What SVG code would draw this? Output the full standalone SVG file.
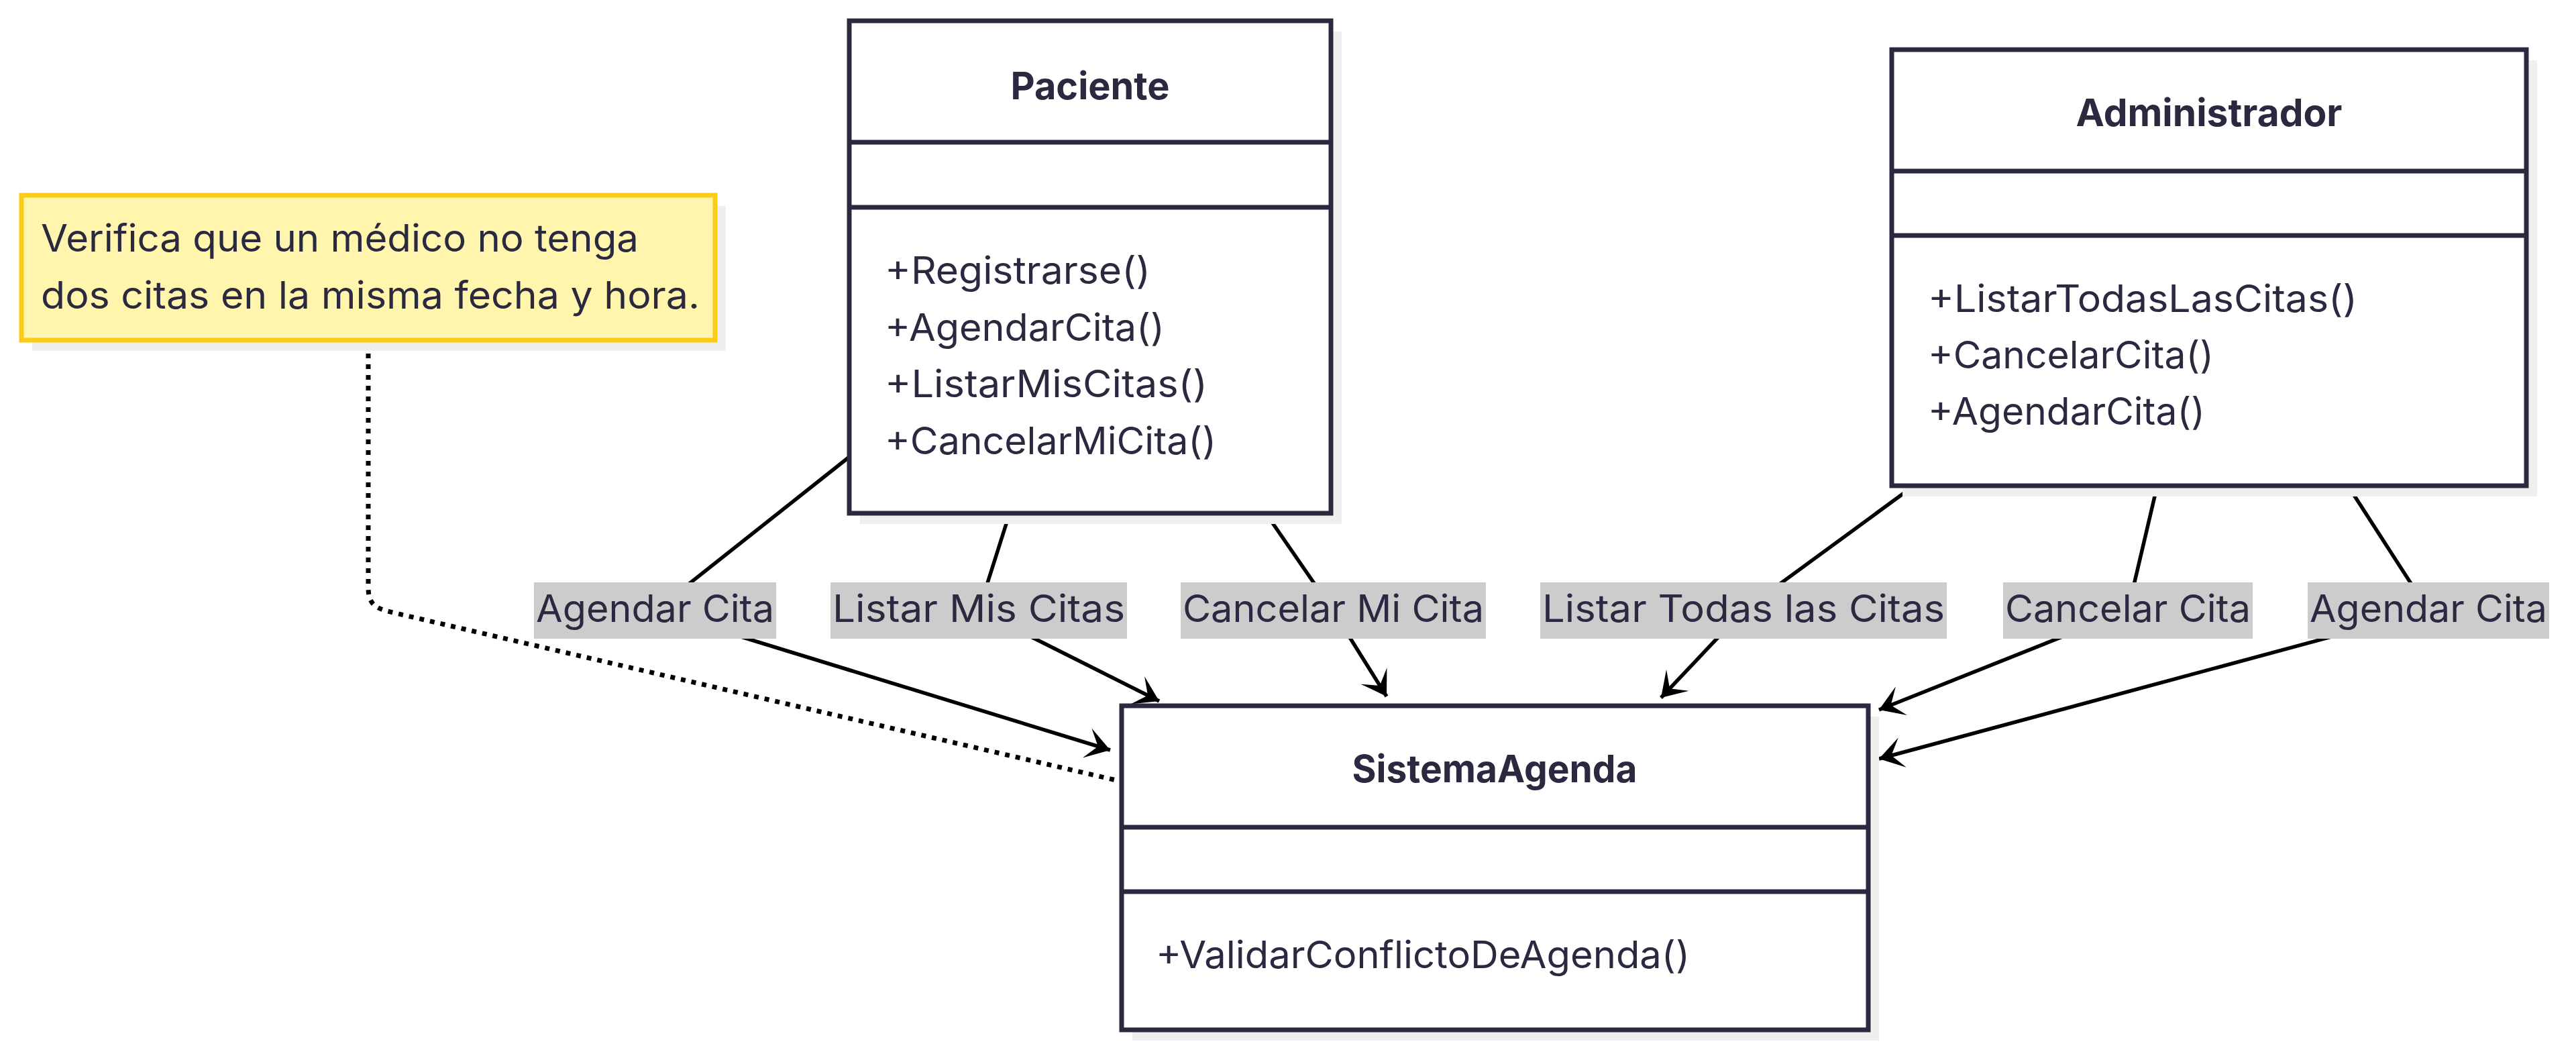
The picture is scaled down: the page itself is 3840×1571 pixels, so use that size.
<svg xmlns="http://www.w3.org/2000/svg" width="3840" height="1571" viewBox="0 0 3840 1571">
<style>
  .box { fill: #ffffff; stroke: #2a2940; stroke-width: 7; }
  .div { stroke: #2a2940; stroke-width: 7; }
  .shadow { fill: #efefef; }
  .title { font-family: Inter, "Noto Sans", sans-serif; font-weight: 700; font-size: 56px; fill: #2a2940; text-anchor: middle; }
  .member { font-family: Inter, "Noto Sans", sans-serif; font-size: 56px; fill: #2a2940; }
  .note { fill: #fff5ad; stroke: #facc15; stroke-width: 7; }
  .edge { fill: none; stroke: #000000; stroke-width: 5.5; }
  .dotted { fill: none; stroke: #000000; stroke-width: 7; stroke-dasharray: 7 9; }
  .lbl-bg { fill: #cccccc; }
  .lbl { font-family: Inter, "Noto Sans", sans-serif; font-size: 56px; fill: #2a2940; text-anchor: middle; }
</style>
<defs>
  <marker id="arrow" markerUnits="userSpaceOnUse" markerWidth="60" markerHeight="60" viewBox="-40 -30 44 60" refX="0" refY="0" orient="auto">
    <path d="M0,0 L-36,-23 L-19,0 L-36,23 Z" fill="#000000"/>
  </marker>
</defs>
<rect width="3840" height="1571" fill="#ffffff"/>

<g id="edges">
  <path class="dotted" d="M549,511 L549,876 C549,905 565,908 590,914 L1664,1163"/>
  <path class="edge" d="M1266,681 L977,910 L1655,1118" marker-end="url(#arrow)"/>
  <path class="edge" d="M1504,768 L1459,910 L1728,1045" marker-end="url(#arrow)"/>
  <path class="edge" d="M1889,768 L1987,910 L2067,1038" marker-end="url(#arrow)"/>
  <path class="edge" d="M2849,727 L2599,910 L2476,1040" marker-end="url(#arrow)"/>
  <path class="edge" d="M3215,727 L3172,910 L2801,1058" marker-end="url(#arrow)"/>
  <path class="edge" d="M3502,727 L3620,910 L2801,1131" marker-end="url(#arrow)"/>
</g>

<g id="edge-labels">
  <rect class="lbl-bg" x="796" y="868" width="361" height="84"/>
  <text class="lbl" x="976.5" y="927" textLength="355" lengthAdjust="spacingAndGlyphs">Agendar Cita</text>
  <rect class="lbl-bg" x="1238" y="868" width="442" height="84"/>
  <text class="lbl" x="1459" y="927" textLength="436" lengthAdjust="spacingAndGlyphs">Listar Mis Citas</text>
  <rect class="lbl-bg" x="1760" y="868" width="455" height="84"/>
  <text class="lbl" x="1987.5" y="927" textLength="449" lengthAdjust="spacingAndGlyphs">Cancelar Mi Cita</text>
  <rect class="lbl-bg" x="2296" y="868" width="606" height="84"/>
  <text class="lbl" x="2599" y="927" textLength="600" lengthAdjust="spacingAndGlyphs">Listar Todas las Citas</text>
  <rect class="lbl-bg" x="2986" y="868" width="372" height="84"/>
  <text class="lbl" x="3172" y="927" textLength="366" lengthAdjust="spacingAndGlyphs">Cancelar Cita</text>
  <rect class="lbl-bg" x="3440" y="868" width="360" height="84"/>
  <text class="lbl" x="3620" y="927" textLength="354" lengthAdjust="spacingAndGlyphs">Agendar Cita</text>
</g>

<g id="note">
  <rect class="shadow" x="48" y="307" width="1034" height="216"/>
  <rect class="note" x="32" y="291" width="1034" height="216"/>
  <text class="member" x="61" y="375" textLength="891" lengthAdjust="spacingAndGlyphs">Verifica que un médico no tenga</text>
  <text class="member" x="61" y="460" textLength="982" lengthAdjust="spacingAndGlyphs">dos citas en la misma fecha y hora.</text>
</g>

<g id="Paciente">
  <rect class="shadow" x="1282" y="47" width="718" height="734"/>
  <rect class="box" x="1266" y="31" width="718" height="734"/>
  <line class="div" x1="1266" y1="212" x2="1984" y2="212"/>
  <line class="div" x1="1266" y1="309" x2="1984" y2="309"/>
  <text class="title" x="1625" y="148" textLength="237" lengthAdjust="spacingAndGlyphs">Paciente</text>
  <text class="member" x="1319" y="423" textLength="396" lengthAdjust="spacingAndGlyphs">+Registrarse()</text>
  <text class="member" x="1319" y="508" textLength="417" lengthAdjust="spacingAndGlyphs">+AgendarCita()</text>
  <text class="member" x="1319" y="592" textLength="481" lengthAdjust="spacingAndGlyphs">+ListarMisCitas()</text>
  <text class="member" x="1319" y="677" textLength="494" lengthAdjust="spacingAndGlyphs">+CancelarMiCita()</text>
</g>

<g id="Administrador">
  <rect class="shadow" x="2836" y="90" width="946" height="650"/>
  <rect class="box" x="2820" y="74" width="946" height="650"/>
  <line class="div" x1="2820" y1="255" x2="3766" y2="255"/>
  <line class="div" x1="2820" y1="351" x2="3766" y2="351"/>
  <text class="title" x="3293" y="188" textLength="397" lengthAdjust="spacingAndGlyphs">Administrador</text>
  <text class="member" x="2874" y="465" textLength="640" lengthAdjust="spacingAndGlyphs">+ListarTodasLasCitas()</text>
  <text class="member" x="2874" y="549" textLength="426" lengthAdjust="spacingAndGlyphs">+CancelarCita()</text>
  <text class="member" x="2874" y="633" textLength="413" lengthAdjust="spacingAndGlyphs">+AgendarCita()</text>
</g>

<g id="SistemaAgenda">
  <rect class="shadow" x="1688" y="1068" width="1113" height="483"/>
  <rect class="box" x="1672" y="1052" width="1113" height="483"/>
  <line class="div" x1="1672" y1="1233" x2="2785" y2="1233"/>
  <line class="div" x1="1672" y1="1329" x2="2785" y2="1329"/>
  <text class="title" x="2228" y="1166" textLength="425" lengthAdjust="spacingAndGlyphs">SistemaAgenda</text>
  <text class="member" x="1723" y="1443" textLength="796" lengthAdjust="spacingAndGlyphs">+ValidarConflictoDeAgenda()</text>
</g>
</svg>
